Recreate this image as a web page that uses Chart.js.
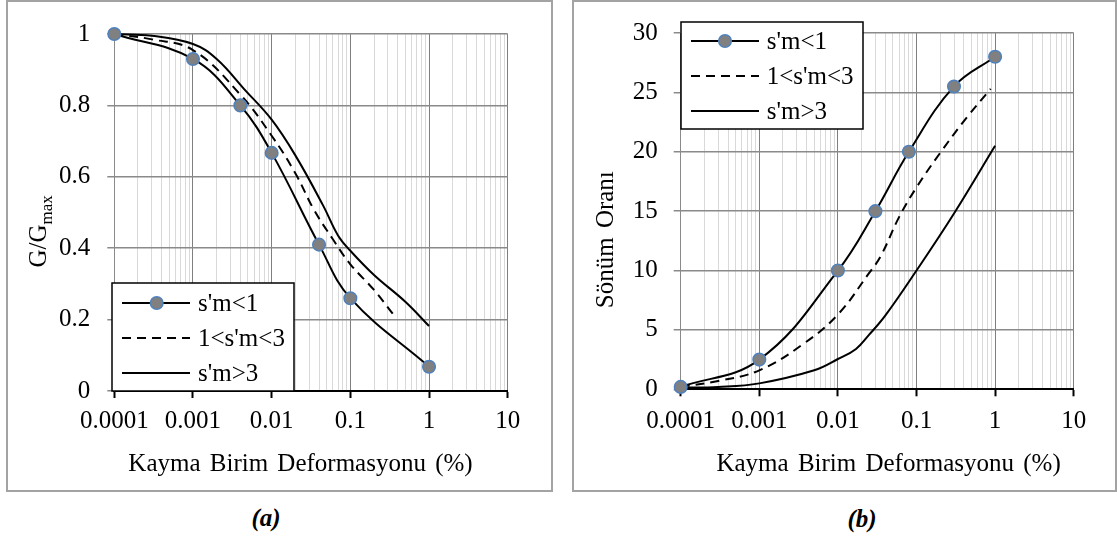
<!DOCTYPE html>
<html><head><meta charset="utf-8">
<script src="https://cdn.jsdelivr.net/npm/chart.js@4.4.1/dist/chart.umd.min.js"></script>
<style>
html,body{margin:0;padding:0;background:#fff;width:1117px;height:539px;overflow:hidden;position:relative}
.box{position:absolute;border:2px solid #a3a3a3;box-sizing:border-box}
canvas{position:absolute}
.cap{position:absolute;font:italic bold 25px "Liberation Serif","Times New Roman",serif;transform:translate(-50%,-50%);white-space:nowrap;color:#000}
</style></head><body>
<div class="box" style="left:6px;top:0;width:547px;height:492px"></div>
<div class="box" style="left:572px;top:0;width:545px;height:492px"></div>
<canvas id="cA" width="542" height="488" style="left:8px;top:2px"></canvas>
<canvas id="cB" width="540" height="489" style="left:574px;top:2px"></canvas>
<div class="cap" style="left:266px;top:518px">(a)</div>
<div class="cap" style="left:862px;top:519px">(b)</div>
<script>
// ---------- data ----------
const xTickLabels = ['0.0001', '0.001', '0.01', '0.1', '1', '10'];
const seriesNames = ["s'm<1", "1<s'm<3", "s'm>3"];
const xTitle = 'Kayma Birim Deformasyonu (%)';
const yTitleA = ['G/G', 'max'];
const yTitleB = 'Sönüm Oranı';

// (a) G/Gmax
const strainA1 = [0.0001, 0.001, 0.004, 0.01, 0.04, 0.1, 1];
const ggA1     = [1.0, 0.93, 0.80, 0.667, 0.41, 0.26, 0.068];
const strainA2 = [0.0001, 0.0003, 0.001, 0.004, 0.01, 0.02, 0.034, 0.06, 0.1, 0.2, 0.35];
const ggA2     = [1.0, 0.985, 0.955, 0.83, 0.715, 0.61, 0.51, 0.425, 0.355, 0.283, 0.215];
const strainA3 = [0.0001, 0.0003, 0.001, 0.002, 0.0045, 0.01, 0.02, 0.045, 0.07, 0.1, 0.2, 0.5, 1];
const ggA3     = [1.0, 0.995, 0.972, 0.93, 0.845, 0.76, 0.66, 0.52, 0.435, 0.393, 0.325, 0.25, 0.182];
const yTicksA  = [0, 0.2, 0.4, 0.6, 0.8, 1];
const yTickLabelsA = ['0', '0.2', '0.4', '0.6', '0.8', '1'];

// (b) Sönüm oranı
const strainB1 = [0.0001, 0.001, 0.01, 0.03, 0.08, 0.3, 1];
const dampB1   = [0.2, 2.5, 10, 15, 20, 25.5, 28];
const strainB2 = [0.0001, 0.0003, 0.001, 0.0036, 0.01, 0.025, 0.035, 0.06, 0.1, 0.2, 0.45, 0.88];
const dampB2   = [0.2, 0.7, 1.6, 3.8, 6.3, 9.8, 11.2, 14.5, 17, 19.9, 23, 25.3];
const strainB3 = [0.0001, 0.0003, 0.001, 0.005, 0.01, 0.017, 0.025, 0.04, 0.1, 0.3, 1];
const dampB3   = [0.15, 0.2, 0.5, 1.6, 2.55, 3.4, 4.6, 6.2, 10, 14.8, 20.5];
const yTicksB  = [0, 5, 10, 15, 20, 25, 30];
const yTickLabelsB = ['0', '5', '10', '15', '20', '25', '30'];

// ---------- helpers ----------
const FONT = '"Liberation Serif", "Times New Roman", serif';
const pts = (xs, ys) => xs.map((x, i) => ({x: x, y: ys[i]}));
const decades = xTickLabels.map(Number);
function isDecade(v) { const l = Math.log10(v); return Math.abs(l - Math.round(l)) < 1e-6; }
function labelFor(v) {
  const i = decades.findIndex(d => Math.abs(d - v) < d * 1e-6);
  return i >= 0 ? xTickLabels[i] : '';
}
function buildLogTicks(scale) {
  const t = [];
  for (let i = 0; i < decades.length; i++) {
    t.push({value: decades[i], major: true});
    if (i < decades.length - 1) for (let k = 2; k <= 9; k++) t.push({value: decades[i] * k, major: false});
  }
  scale.ticks = t;
}
const DASH = [9, 6];

function datasets(s1x, s1y, s2x, s2y, s3x, s3y) {
  return [
    {label: seriesNames[0], data: pts(s1x, s1y), borderColor: '#000', borderWidth: 2, tension: 0.4,
     pointRadius: 6.3, pointBackgroundColor: '#808080', pointBorderColor: '#4f81bd', pointBorderWidth: 1.5, clip: false},
    {label: seriesNames[1], data: pts(s2x, s2y), borderColor: '#000', borderWidth: 2, borderDash: DASH, tension: 0.4,
     pointRadius: 0, clip: false},
    {label: seriesNames[2], data: pts(s3x, s3y), borderColor: '#000', borderWidth: 2, tension: 0.4,
     pointRadius: 0, clip: false}
  ];
}

function decor(cfg) {
  return {
    id: 'decor',
    afterDraw(chart) {
      const ctx = chart.ctx;
      ctx.save();
      // legend
      const L = cfg.legend;
      ctx.fillStyle = '#fff';
      ctx.fillRect(L.x, L.y, L.w, L.h);
      ctx.strokeStyle = '#000'; ctx.lineWidth = 1.5; ctx.setLineDash([]);
      ctx.strokeRect(L.x, L.y, L.w, L.h);
      for (let i = 0; i < 3; i++) {
        const y = L.rows[i];
        ctx.beginPath();
        ctx.setLineDash(i === 1 ? DASH : []);
        ctx.lineWidth = 2; ctx.strokeStyle = '#000';
        ctx.moveTo(L.lx1, y); ctx.lineTo(L.lx2, y); ctx.stroke();
        ctx.setLineDash([]);
        if (i === 0) {
          ctx.beginPath(); ctx.arc(L.mx, y, 6.3, 0, Math.PI * 2);
          ctx.fillStyle = '#808080'; ctx.fill();
          ctx.lineWidth = 1.5; ctx.strokeStyle = '#4f81bd'; ctx.stroke();
        }
        ctx.fillStyle = '#000'; ctx.font = '25px ' + FONT;
        ctx.textAlign = 'left'; ctx.textBaseline = 'middle';
        ctx.fillText(seriesNames[i], L.tx, y + 1);
      }
      // x title
      ctx.fillStyle = '#000';
      try { ctx.wordSpacing = '3px'; } catch (e) {}
      ctx.font = '25px ' + FONT; ctx.textAlign = 'center'; ctx.textBaseline = 'middle';
      ctx.fillText(xTitle, cfg.xt.x, cfg.xt.y);
      // y title
      ctx.translate(cfg.yt.x, cfg.yt.y);
      ctx.rotate(-Math.PI / 2);
      ctx.textAlign = 'left'; ctx.textBaseline = 'alphabetic';
      if (Array.isArray(cfg.yt.text)) {
        ctx.font = '25px ' + FONT; const w1 = ctx.measureText(cfg.yt.text[0]).width;
        ctx.font = '17px ' + FONT; const w2 = ctx.measureText(cfg.yt.text[1]).width;
        const x0 = -(w1 + w2) / 2;
        ctx.font = '25px ' + FONT; ctx.fillText(cfg.yt.text[0], x0, 0);
        ctx.font = '17px ' + FONT; ctx.fillText(cfg.yt.text[1], x0 + w1, 6);
      } else {
        ctx.font = '25px ' + FONT;
        const w = ctx.measureText(cfg.yt.text).width;
        ctx.fillText(cfg.yt.text, -w / 2, 0);
      }
      try { ctx.wordSpacing = '0px'; } catch (e) {}
      ctx.restore();
    }
  };
}

function makeChart(id, ds, yMin, yMax, yTicks, yLabels, area, pad, legend, xt, yt) {
  return new Chart(document.getElementById(id), {
    type: 'line',
    data: {datasets: ds},
    options: {
      responsive: false, animation: false, devicePixelRatio: 1,
      layout: {padding: {left: 0, top: pad.top, right: pad.right, bottom: 0}},
      plugins: {legend: {display: false}, tooltip: {enabled: false}},
      scales: {
        x: {
          type: 'logarithmic', min: decades[0], max: decades[decades.length - 1],
          afterBuildTicks: buildLogTicks,
          afterFit: s => { s.height = area.xh; },
          ticks: {autoSkip: false, maxRotation: 0, minRotation: 0, padding: area.xpad, color: '#000',
                  font: {family: FONT, size: 25}, callback: v => labelFor(v)},
          grid: {
            color: c => (c.tick && isDecade(c.tick.value)) ? '#7f7f7f' : '#d9d9d9',
            lineWidth: 1, drawTicks: true, tickLength: 7,
            tickColor: c => (c.tick && isDecade(c.tick.value)) ? '#000' : 'rgba(0,0,0,0)',
            tickWidth: 2
          },
          border: {display: true, color: '#000', width: 2}
        },
        y: {
          type: 'linear', min: yMin, max: yMax,
          afterFit: s => { s.width = area.yw; },
          afterBuildTicks: s => { s.ticks = yTicks.map(v => ({value: v})); },
          ticks: {padding: area.ypad, color: '#000', font: {family: FONT, size: 25},
                  callback: (v, i) => yLabels[yTicks.indexOf(v)] ?? ''},
          grid: {
            color: c => (c.tick && c.tick.value === 0) ? 'rgba(0,0,0,0)' : '#8a8a8a',
            lineWidth: 1.5, drawTicks: true, tickLength: 7, tickColor: '#8a8a8a', tickWidth: 1.5
          },
          border: {display: true, color: '#8a8a8a', width: 1}
        }
      }
    },
    plugins: [decor({legend: legend, xt: xt, yt: yt})]
  });
}

makeChart('cA', datasets(strainA1, ggA1, strainA2, ggA2, strainA3, ggA3), 0, 1, yTicksA, yTickLabelsA,
  {xh: 99, yw: 106.3, xpad: 8, ypad: 17}, {top: 22, right: 42.3},
  {x: 104, y: 281, w: 182, h: 108, rows: [301, 336, 371], lx1: 114, lx2: 182, mx: 148.7, tx: 190},
  {x: 292.5, y: 462}, {x: 37.6, y: 229.4, text: yTitleA});

makeChart('cB', datasets(strainB1, dampB1, strainB2, dampB2, strainB3, dampB3), 0, 30, yTicksB, yTickLabelsB,
  {xh: 101.7, yw: 106.7, xpad: 10, ypad: 16}, {top: 23, right: 40.3},
  {x: 107, y: 20, w: 182, h: 107, rows: [39, 74, 109], lx1: 117, lx2: 185, mx: 151, tx: 192.7},
  {x: 314.6, y: 462}, {x: 38.5, y: 237.7, text: yTitleB});
</script>
</body></html>
